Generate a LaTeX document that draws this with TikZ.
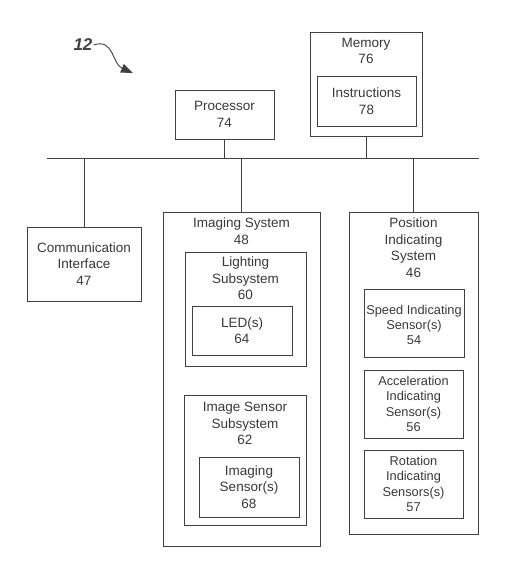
\documentclass[tikz,border=0pt]{standalone}
\usepackage{fontspec}
\setmainfont{Liberation Sans}
\usetikzlibrary{arrows.meta}

\definecolor{ink}{gray}{0.25}
\definecolor{txt}{gray}{0.22}

\tikzset{
  box/.style={draw=ink, line width=0.9pt, inner sep=0pt, outer sep=0pt},
  lbl/.style={text=txt, font=\fontsize{13.5}{16.5}\selectfont, align=center, inner sep=0pt},
  slbl/.style={lbl, font=\fontsize{12.8}{15.2}\selectfont},
  wire/.style={draw=ink, line width=0.9pt},
}

\begin{document}
\begin{tikzpicture}[x=1pt, y=-1pt]

\useasboundingbox (0,0) rectangle (529,563);

%% figure number
\node[font=\fontsize{17}{17}\selectfont\bfseries\itshape, text=ink, inner sep=1pt] (fig) at (83,45) {12};
\coordinate (figtip) at (133,73);
\draw[wire, -{Triangle[length=12pt,width=9pt]}] (fig.east) .. controls (114,38) and (112,64) .. (figtip);

%% top row
\node[box, minimum width=99, minimum height=49] (proc) at (224.5,114.5) {};
\node[lbl] at (proc.center) {Processor\\74};

\node[box, minimum width=112, minimum height=104] (mem) at (366,84) {};
\node[lbl, anchor=north] at ([yshift=-6pt]mem.north) {Memory\\76};
\node[box, minimum width=99, minimum height=50] (instr) at (366.5,101) {};
\node[lbl] at (instr.center) {Instructions\\78};

%% bus
\coordinate (busW) at (47,158);
\coordinate (busE) at (479,158);
\draw[wire] (busW) -- (busE);

%% communication
\node[box, minimum width=114, minimum height=74] (comm) at (84,264) {};
\node[lbl] at (comm.center) {Communication\\Interface\\47};

%% imaging system
\node[box, minimum width=157, minimum height=334] (img) at (241.5,379) {};
\node[lbl, anchor=north] at ([yshift=-6pt]img.north) {Imaging System\\48};

\node[box, minimum width=121, minimum height=114] (light) at (245.5,309) {};
\node[lbl, anchor=north] at ([yshift=-5pt]light.north) {Lighting\\Subsystem\\60};
\node[box, minimum width=100, minimum height=49] (led) at (242,330.5) {};
\node[lbl] at (led.center) {LED(s)\\64};

\node[box, minimum width=122, minimum height=130] (iss) at (245,460) {};
\node[lbl, anchor=north] at ([yshift=-7pt]iss.north) {Image Sensor\\Subsystem\\62};
\node[box, minimum width=100, minimum height=60] (isens) at (249,487) {};
\node[lbl] at (isens.center) {Imaging\\Sensor(s)\\68};

%% position indicating system
\node[box, minimum width=129, minimum height=322] (pos) at (413.5,373) {};
\node[lbl, anchor=north] at ([yshift=-6pt]pos.north) {Position\\Indicating\\System\\46};

\node[box, minimum width=100, minimum height=68] (speed) at (414,323) {};
\node[slbl] at ([yshift=-2pt]speed.center) {Speed Indicating\\Sensor(s)\\54};
\node[box, minimum width=99, minimum height=68] (accel) at (413.5,404) {};
\node[slbl] at (accel.center) {Acceleration\\Indicating\\Sensor(s)\\56};
\node[box, minimum width=99, minimum height=68] (rot) at (413.5,484) {};
\node[slbl] at (rot.center) {Rotation\\Indicating\\Sensors(s)\\57};

%% taps on the bus
\draw[wire] (proc.south) -- (proc.south |- busW);
\draw[wire] (mem.south) -- (mem.south |- busW);
\draw[wire] (comm.north |- busW) -- (comm.north);
\draw[wire] (img.north |- busW) -- (img.north);
\draw[wire] (pos.north |- busW) -- (pos.north);

\end{tikzpicture}
\end{document}
